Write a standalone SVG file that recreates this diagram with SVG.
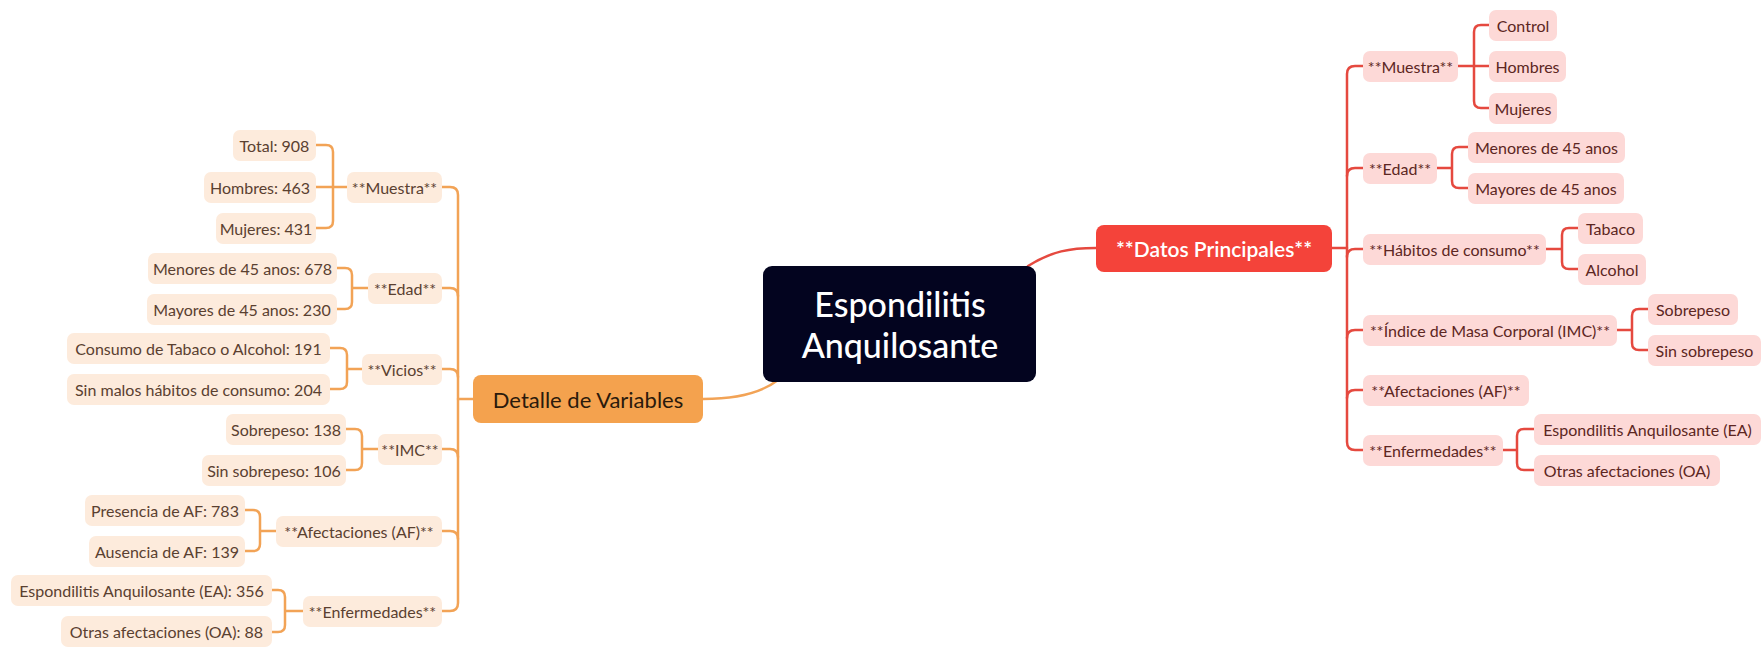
<svg xmlns="http://www.w3.org/2000/svg" width="1762" height="647" viewBox="0 0 1762 647">
<style>
text{font-family:Lato,"Liberation Sans",sans-serif;text-anchor:middle;dominant-baseline:central}
.lb{fill:#FDEBDC}
.rb{fill:#FDD9D7}
.lt{fill:#5A4030;font-size:16px}
.rt{fill:#5C2622;font-size:16px}
.lc{fill:none;stroke:#F2A356;stroke-width:2.5;stroke-linecap:round}
.rc{fill:none;stroke:#E5493F;stroke-width:2.5;stroke-linecap:round}
</style>
<rect width="1762" height="647" fill="#ffffff"/>
<g id="connectors">
<path class="lc" d="M703,399 C735,399 760,394 778,380" stroke-width="3"/>
<path class="rc" d="M1028,266 C1052,251 1070,248 1096,248" stroke-width="3"/>
<path class="lc" d="M442,187 H450 Q458,187 458,195 V603 Q458,611 450,611 H442" stroke-width="3"/>
<path class="lc" d="M442,288 H450 Q458,288 458,296"/>
<path class="lc" d="M442,369 H450 Q458,369 458,377"/>
<path class="lc" d="M442,449 H450 Q458,449 458,457"/>
<path class="lc" d="M442,531 H450 Q458,531 458,539"/>
<path class="lc" d="M458,399 H473" stroke-width="3"/>
<path class="lc" d="M316,145 H326 Q333,145 333,152 V221 Q333,228 326,228 H316 M316,187 H347"/>
<path class="lc" d="M337,268 H345 Q352,268 352,275 V302 Q352,309 345,309 H337 M352,288 H368"/>
<path class="lc" d="M330,348 H340 Q347,348 347,355 V382 Q347,389 340,389 H330 M347,369 H362"/>
<path class="lc" d="M346,429 H355 Q362,429 362,436 V463 Q362,470 355,470 H346 M362,449 H378"/>
<path class="lc" d="M245,510 H253 Q260,510 260,517 V544 Q260,551 253,551 H245 M260,531 H276"/>
<path class="lc" d="M272,590 H278 Q285,590 285,597 V625 Q285,632 278,632 H272 M285,611 H303"/>
<path class="rc" d="M1363,66 H1355 Q1347,66 1347,74 V442 Q1347,450 1355,450 H1363" stroke-width="3"/>
<path class="rc" d="M1363,168 H1355 Q1347,168 1347,176"/>
<path class="rc" d="M1363,249 H1355 Q1347,249 1347,257"/>
<path class="rc" d="M1363,330 H1355 Q1347,330 1347,338"/>
<path class="rc" d="M1363,390 H1355 Q1347,390 1347,398"/>
<path class="rc" d="M1332,248 H1347" stroke-width="3"/>
<path class="rc" d="M1489,25 H1481 Q1474,25 1474,32 V101 Q1474,108 1481,108 H1489 M1458,66 H1489"/>
<path class="rc" d="M1468,147 H1459 Q1452,147 1452,154 V181 Q1452,188 1459,188 H1468 M1437,168 H1452"/>
<path class="rc" d="M1578,228 H1569 Q1562,228 1562,235 V262 Q1562,269 1569,269 H1578 M1546,249 H1562"/>
<path class="rc" d="M1648,309 H1639 Q1632,309 1632,316 V343 Q1632,350 1639,350 H1648 M1617,330 H1632"/>
<path class="rc" d="M1534,429 H1524 Q1517,429 1517,436 V463 Q1517,470 1524,470 H1534 M1503,450 H1517"/>
</g>
<g id="central">
<rect x="763" y="266" width="273" height="116" rx="9" fill="#03041F"/>
<text x="900" y="303" fill="#ffffff" font-size="34" font-weight="500">Espondilitis</text>
<text x="900" y="344" fill="#ffffff" font-size="34" font-weight="500">Anquilosante</text>
</g>
<g id="detalle">
<rect x="473" y="375" width="230" height="48" rx="8" fill="#F4A24E"/>
<text x="588" y="399" fill="#2A1A0C" font-size="22">Detalle de Variables</text>
</g>
<g id="datos">
<rect x="1096" y="225" width="236" height="47" rx="8" fill="#F4433A"/>
<text x="1214" y="248" fill="#ffffff" font-size="21" font-weight="600">**Datos Principales**</text>
</g>
<g id="l-muestra"><rect class="lb" x="347" y="172" width="95" height="31" rx="7"/><text class="lt" x="394.5" y="187">**Muestra**</text></g>
<g id="l-total"><rect class="lb" x="233" y="130" width="83" height="31" rx="7"/><text class="lt" x="274.5" y="145">Total: 908</text></g>
<g id="l-hombres"><rect class="lb" x="204" y="172" width="112" height="31" rx="7"/><text class="lt" x="260" y="187">Hombres: 463</text></g>
<g id="l-mujeres"><rect class="lb" x="216" y="213" width="100" height="31" rx="7"/><text class="lt" x="266" y="228">Mujeres: 431</text></g>
<g id="l-edad"><rect class="lb" x="368" y="273" width="74" height="31" rx="7"/><text class="lt" x="405" y="288">**Edad**</text></g>
<g id="l-menores"><rect class="lb" x="148" y="253" width="189" height="31" rx="7"/><text class="lt" x="242.5" y="268">Menores de 45 anos: 678</text></g>
<g id="l-mayores"><rect class="lb" x="147" y="294" width="190" height="31" rx="7"/><text class="lt" x="242" y="309">Mayores de 45 anos: 230</text></g>
<g id="l-vicios"><rect class="lb" x="362" y="354" width="80" height="31" rx="7"/><text class="lt" x="402" y="369">**Vicios**</text></g>
<g id="l-consumo"><rect class="lb" x="67" y="333" width="263" height="31" rx="7"/><text class="lt" x="198.5" y="348">Consumo de Tabaco o Alcohol: 191</text></g>
<g id="l-sinmalos"><rect class="lb" x="67" y="374" width="263" height="31" rx="7"/><text class="lt" x="198.5" y="389">Sin malos hábitos de consumo: 204</text></g>
<g id="l-imc"><rect class="lb" x="378" y="434" width="64" height="31" rx="7"/><text class="lt" x="410" y="449">**IMC**</text></g>
<g id="l-sobrepeso"><rect class="lb" x="226" y="414" width="120" height="31" rx="7"/><text class="lt" x="286" y="429">Sobrepeso: 138</text></g>
<g id="l-sinsobrepeso"><rect class="lb" x="202" y="455" width="144" height="31" rx="7"/><text class="lt" x="274" y="470">Sin sobrepeso: 106</text></g>
<g id="l-af"><rect class="lb" x="276" y="516" width="166" height="31" rx="7"/><text class="lt" x="359" y="531">**Afectaciones (AF)**</text></g>
<g id="l-presencia"><rect class="lb" x="85" y="495" width="160" height="31" rx="7"/><text class="lt" x="165" y="510">Presencia de AF: 783</text></g>
<g id="l-ausencia"><rect class="lb" x="89" y="536" width="156" height="31" rx="7"/><text class="lt" x="167" y="551">Ausencia de AF: 139</text></g>
<g id="l-enfermedades"><rect class="lb" x="303" y="596" width="139" height="31" rx="7"/><text class="lt" x="372.5" y="611">**Enfermedades**</text></g>
<g id="l-ea"><rect class="lb" x="11" y="575" width="261" height="31" rx="7"/><text class="lt" x="141.5" y="590">Espondilitis Anquilosante (EA): 356</text></g>
<g id="l-oa"><rect class="lb" x="61" y="616" width="211" height="31" rx="7"/><text class="lt" x="166.5" y="631">Otras afectaciones (OA): 88</text></g>
<g id="r-muestra"><rect class="rb" x="1363" y="51" width="95" height="31" rx="7"/><text class="rt" x="1410.5" y="66">**Muestra**</text></g>
<g id="r-control"><rect class="rb" x="1489" y="10" width="68" height="31" rx="7"/><text class="rt" x="1523" y="25">Control</text></g>
<g id="r-hombres"><rect class="rb" x="1489" y="51" width="77" height="31" rx="7"/><text class="rt" x="1527.5" y="66">Hombres</text></g>
<g id="r-mujeres"><rect class="rb" x="1489" y="93" width="68" height="31" rx="7"/><text class="rt" x="1523" y="108">Mujeres</text></g>
<g id="r-edad"><rect class="rb" x="1363" y="153" width="74" height="31" rx="7"/><text class="rt" x="1400" y="168">**Edad**</text></g>
<g id="r-menores"><rect class="rb" x="1468" y="132" width="157" height="31" rx="7"/><text class="rt" x="1546.5" y="147">Menores de 45 anos</text></g>
<g id="r-mayores"><rect class="rb" x="1468" y="173" width="156" height="31" rx="7"/><text class="rt" x="1546" y="188">Mayores de 45 anos</text></g>
<g id="r-habitos"><rect class="rb" x="1363" y="234" width="183" height="31" rx="7"/><text class="rt" x="1454.5" y="249">**Hábitos de consumo**</text></g>
<g id="r-tabaco"><rect class="rb" x="1578" y="213" width="65" height="31" rx="7"/><text class="rt" x="1610.5" y="228">Tabaco</text></g>
<g id="r-alcohol"><rect class="rb" x="1578" y="254" width="68" height="31" rx="7"/><text class="rt" x="1612" y="269">Alcohol</text></g>
<g id="r-imc"><rect class="rb" x="1363" y="315" width="254" height="31" rx="7"/><text class="rt" x="1490" y="330">**Índice de Masa Corporal (IMC)**</text></g>
<g id="r-sobrepeso"><rect class="rb" x="1648" y="294" width="90" height="31" rx="7"/><text class="rt" x="1693" y="309">Sobrepeso</text></g>
<g id="r-sinsobrepeso"><rect class="rb" x="1648" y="335" width="113" height="31" rx="7"/><text class="rt" x="1704.5" y="350">Sin sobrepeso</text></g>
<g id="r-af"><rect class="rb" x="1363" y="375" width="166" height="31" rx="7"/><text class="rt" x="1446" y="390">**Afectaciones (AF)**</text></g>
<g id="r-enfermedades"><rect class="rb" x="1363" y="435" width="140" height="31" rx="7"/><text class="rt" x="1433" y="450">**Enfermedades**</text></g>
<g id="r-ea"><rect class="rb" x="1534" y="414" width="227" height="31" rx="7"/><text class="rt" x="1647.5" y="429">Espondilitis Anquilosante (EA)</text></g>
<g id="r-oa"><rect class="rb" x="1534" y="455" width="186" height="31" rx="7"/><text class="rt" x="1627" y="470">Otras afectaciones (OA)</text></g>
</svg>
